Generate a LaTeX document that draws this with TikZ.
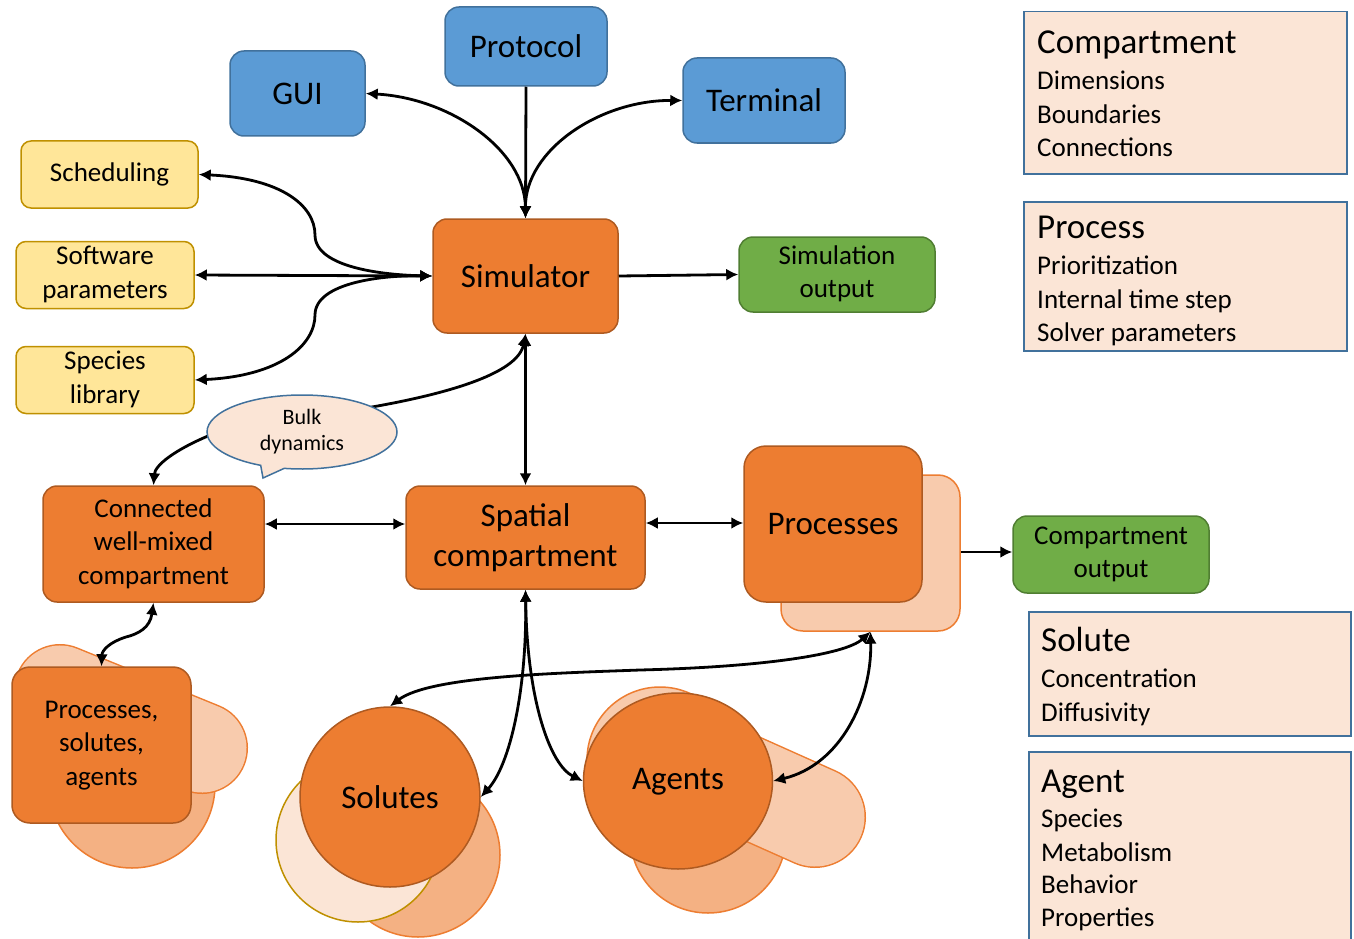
\documentclass[tikz,border=0pt]{standalone}
\usepackage{fontspec}
\setmainfont{Carlito}
\usetikzlibrary{arrows.meta,shapes.geometric,shapes.callouts}
\definecolor{cblue}{HTML}{5B9BD5}
\definecolor{cbluedk}{HTML}{41719C}
\definecolor{corange}{HTML}{ED7D31}
\definecolor{corangedk}{HTML}{AE5A21}
\definecolor{cgreen}{HTML}{70AD47}
\definecolor{cgreendk}{HTML}{507E32}
\definecolor{cyellow}{HTML}{FFE699}
\definecolor{cyellowdk}{HTML}{BF9000}
\definecolor{cpale}{HTML}{FBE5D6}
\definecolor{clight}{HTML}{F8CBAD}
\definecolor{cmed}{HTML}{F4B183}
\tikzset{
  boxbase/.style={rounded corners=14pt, line width=1.5pt, align=center, inner sep=0pt},
  bigfont/.style={font=\fontsize{33}{40}\selectfont},
  midfont/.style={font=\fontsize{27}{33.5}\selectfont},
  bluebox/.style={boxbase, bigfont, fill=cblue, draw=cbluedk},
  orangebox/.style={boxbase, fill=corange, draw=corangedk},
  greenbox/.style={boxbase, midfont, fill=cgreen, draw=cgreendk},
  yellowbox/.style={boxbase, midfont, rounded corners=10pt, fill=cyellow, draw=cyellowdk},
  lightshape/.style={fill=clight, draw=corange, line width=1.5pt},
  medshape/.style={fill=cmed, draw=corange, line width=1.5pt},
  infobox/.style={fill=cpale, draw=cbluedk, line width=1.5pt, inner sep=0pt, anchor=north west},
  infohead/.style={anchor=base west, inner sep=0pt, font=\fontsize{35}{40}\selectfont},
  infoitem/.style={anchor=base west, inner sep=0pt, font=\fontsize{27}{33}\selectfont},
  tip/.tip={Latex[length=12pt,width=12pt]},
  dbl/.style={{tip}-{tip}, line width=2.8pt},
  sgl/.style={-{tip}, line width=2.8pt},
}
\begin{document}
\begin{tikzpicture}[x=1pt,y=-1pt]
\path[use as bounding box] (0,0) rectangle (1354,939);
\clip (0,0) rectangle (1354,939);

% ---- background decorative shapes ----
% processes, solutes, agents cluster
\draw[medshape] (132,785) circle (83);
\draw[line width=92pt, line cap=round, draw=corange] (60,690) -- (202,748);
\draw[line width=89pt, line cap=round, draw=clight] (60,690) -- (202,748);
% solutes cluster
\draw[medshape] (418,855) circle (82);
\draw[fill=cpale, draw=cyellowdk, line width=1.5pt] (358,840) circle (82);
% agents cluster
\draw[medshape] (708,835) circle (78);
\draw[lightshape] (660,760) circle (73);
\draw[line width=102pt, line cap=round, draw=corange] (692,762) -- (815,817);
\draw[line width=99pt, line cap=round, draw=clight] (692,762) -- (815,817);

% ---- top blue boxes ----
\node[bluebox, minimum width=162pt, minimum height=79pt] (protocol) at (526,46.5) {Protocol};
\node[bluebox, minimum width=135pt, minimum height=85pt] (gui) at (297.5,93.5) {GUI};
\node[bluebox, minimum width=162pt, minimum height=85pt] (terminal) at (764,100.5) {Terminal};

% ---- simulator and neighbours ----
\node[orangebox, bigfont, minimum width=185pt, minimum height=114pt] (sim) at (525.5,276) {Simulator};
\node[greenbox, minimum width=196pt, minimum height=75pt] (simout) at (837,274.5) {\strut Simulation\\\strut output};
\node[yellowbox, minimum width=177pt, minimum height=67pt] (sched) at (109.5,174.5) {\strut Scheduling};
\node[yellowbox, minimum width=178pt, minimum height=66pt] (softp) at (105,275) {\strut Software\\\strut parameters};
\node[yellowbox, minimum width=178pt, minimum height=66pt] (species) at (105,380) {\strut Species\\\strut library};

% ---- middle row ----
\node[orangebox, midfont, minimum width=221pt, minimum height=116pt] (conn) at (153.5,544) {\strut Connected\\\strut well-mixed\\\strut compartment};
\node[orangebox, bigfont, minimum width=239pt, minimum height=103pt] (spatial) at (525.5,537.5) {Spatial\\compartment};
\node[boxbase, lightshape, rounded corners=22pt, minimum width=179pt, minimum height=156pt] (procback) at (870.5,553) {};
\node[orangebox, bigfont, rounded corners=22pt, minimum width=178pt, minimum height=156pt] (proc) at (833,524) {Processes};
\node[greenbox, minimum width=196pt, minimum height=77pt] (compout) at (1111,554.5) {\strut Compartment\\\strut output};

% ---- bottom row ----
\node[orangebox, midfont, rounded corners=18pt, minimum width=179pt, minimum height=156pt] (psa) at (101.5,745) {\strut Processes,\\\strut solutes,\\\strut agents};
\node[circle, fill=corange, draw=corangedk, line width=1.5pt, bigfont, inner sep=0pt, minimum size=180pt] (solutes) at (390,797) {Solutes};
\node[ellipse, fill=corange, draw=corangedk, line width=1.5pt, bigfont, inner sep=0pt, minimum width=189pt, minimum height=176pt] (agents) at (678,781) {\strut Agents};

% ---- info boxes on the right ----
\node[infobox, minimum width=323pt, minimum height=162pt] (compbox) at (1023,11) {};
\node[infohead] (comph) at (1037,54) {Compartment};
\node[infoitem] (ci1) at (1037,90) {Dimensions};
\node[infoitem] (ci2) at (1037,124) {Boundaries};
\node[infoitem] (ci3) at (1037,157) {Connections};

\node[infobox, minimum width=323pt, minimum height=149pt] (procbox) at (1023,201) {};
\node[infohead] (proch) at (1037,238) {Process};
\node[infoitem] (pi1) at (1037,274) {Prioritization};
\node[infoitem] (pi2) at (1037,308) {Internal time step};
\node[infoitem] (pi3) at (1037,341) {Solver parameters};

\node[infobox, minimum width=322pt, minimum height=124pt] (solbox) at (1028,611) {};
\node[infohead] (solh) at (1041,651) {Solute};
\node[infoitem] (si1) at (1041,687) {Concentration};
\node[infoitem] (si2) at (1041,721) {Diffusivity};

\node[infobox, minimum width=322pt, minimum height=200pt] (agbox) at (1028,751) {};
\node[infohead] (agh) at (1041,792) {Agent};
\node[infoitem] (ai1) at (1041,827) {Species};
\node[infoitem] (ai2) at (1041,861) {Metabolism};
\node[infoitem] (ai3) at (1041,893) {Behavior};
\node[infoitem] (ai4) at (1041,926) {Properties};

% ---- connectors ----
\draw[sgl] (protocol.south) -- (sim.north);
\draw[dbl] (gui.east) .. controls (450,98) and (525,150) .. (sim.north);
\draw[dbl] (terminal.west) .. controls (600,100) and (525,150) .. (sim.north);
\draw[dbl] (sched.east) .. controls (280,178) and (315,205) .. (315,235)
  .. controls (315,268) and (385,275) .. (sim.west);
\draw[dbl] (softp.east) -- (sim.west);
\draw[dbl] (species.east) .. controls (280,376) and (315,345) .. (315,315)
  .. controls (315,282) and (385,275) .. (sim.west);
\draw[sgl] (sim.east) -- (simout.west);
\draw[dbl] (sim.south) -- (spatial.north);
\draw[dbl] (sim.south) .. controls (518,375) and (440,395) .. (372,407)
  .. controls (300,420) and (240,420) .. (208,436)
  .. controls (175,450) and (155,465) .. (conn.north);
\draw[dbl] (conn.east |- 0,524) -- (spatial.west |- 0,524);
\draw[dbl] (spatial.east |- 0,523) -- (proc.west |- 0,523);
\draw[sgl] (procback.east |- 0,552) -- (compout.west |- 0,552);
\draw[dbl] (conn.south) .. controls (150,628) and (138,634) .. (126,637)
  .. controls (110,642) and (102,650) .. (psa.north);
\draw[dbl] (spatial.south) .. controls (527,690) and (510,765) .. (solutes.east);
\draw[dbl] (spatial.south) .. controls (527,700) and (550,765) .. (agents.west);
\draw[dbl] (solutes.north) .. controls (430,676) and (560,673) .. (640,670)
  .. controls (760,667) and (845,655) .. (procback.south);
\draw[dbl] (agents.east) .. controls (840,765) and (872,700) .. (procback.south);

% ---- callout on top of its connector ----
\node[ellipse callout, fill=cpale, draw=cbluedk, line width=1.5pt, inner sep=0pt,
  minimum width=190pt, minimum height=74pt, align=center,
  font=\fontsize{22}{26}\selectfont,
  callout absolute pointer={(263,478)}] (bulk) at (302,432) {\strut Bulk\\\strut dynamics};
\end{tikzpicture}
\end{document}
